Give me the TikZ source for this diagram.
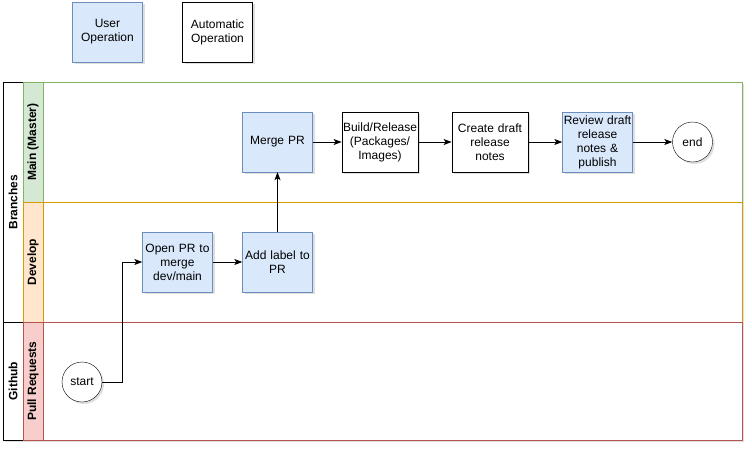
\documentclass[tikz,border=0pt]{standalone}
\usepackage{fontspec}
\setmainfont{Liberation Sans}
\usetikzlibrary{arrows.meta,shadows,calc}
\definecolor{userfill}{HTML}{DAE8FC}
\definecolor{userline}{HTML}{6C8EBF}
\definecolor{mainfill}{HTML}{D5E8D4}
\definecolor{mainline}{HTML}{82B366}
\definecolor{devfill}{HTML}{FFE6CC}
\definecolor{devline}{HTML}{D79B00}
\definecolor{prfill}{HTML}{F8CECC}
\definecolor{prline}{HTML}{B85450}
\tikzset{
  base/.style={font=\fontsize{12}{14}\selectfont, align=center, inner sep=1pt,
    drop shadow={opacity=0.25, shadow xshift=2pt, shadow yshift=-2pt}},
  userop/.style={base, draw=userline, fill=userfill, minimum width=70pt, minimum height=60pt, text width=68pt},
  autoop/.style={base, draw=black, fill=white, line width=0.8pt, minimum width=70pt, minimum height=60pt, text width=74pt},
  terminal/.style={base, circle, draw=black, fill=white, minimum size=40pt},
  flow/.style={-{Stealth[length=8pt,width=6pt,inset=2pt]}, line width=0.8pt},
  laneTitle/.style={font=\bfseries\fontsize{12}{14}\selectfont, rotate=90},
}
\begin{document}
\begin{tikzpicture}[x=1pt,y=-1pt]
\useasboundingbox (0,0) rectangle (752,451);

% legend
\node[userop] (legUser) at (107.5,32) {User\\Operation};
\node[autoop, minimum width=70pt, text width=68pt] (legAuto) at (217.5,32) {Automatic\\Operation};

% pool shadows
\fill[black, opacity=0.12] (5,84) rectangle (744,442);

% pool headers
\draw[fill=white] (3,82) rectangle (23,322);
\node[laneTitle] (poolBranches) at (13,202) {Branches};
\draw[fill=white] (3,322) rectangle (23,440);
\node[laneTitle] (poolGithub) at (13,381) {Github};

% lanes
\draw[mainline, fill=white] (43,82) rectangle (742,202);
\draw[mainline, fill=mainfill] (23,82) rectangle (43,202);
\node[laneTitle] (laneMain) at (33,142) {Main (Master)};

\draw[devline, fill=white] (43,202) rectangle (742,322);
\draw[devline, fill=devfill] (23,202) rectangle (43,322);
\node[laneTitle] (laneDev) at (33,262) {Develop};

\draw[prline, fill=white] (43,322) rectangle (742,440);
\draw[prline, fill=prfill] (23,322) rectangle (43,440);
\node[laneTitle] (lanePR) at (33,381) {Pull Requests};

% flow nodes
\node[terminal] (start) at (82,382) {start};
\node[userop] (openpr) at (177.5,262) {Open PR to\\merge\\dev/main};
\node[userop] (addlabel) at (277.5,262) {Add label to\\PR};
\node[userop] (merge) at (277.5,142) {Merge PR};
\node[autoop, minimum width=75pt] (build) at (380,142) {Build/Release\\(Packages/\\Images)};
\node[autoop, minimum width=75pt] (draft) at (490,142) {Create draft\\release\\notes};
\node[userop] (review) at (597.5,142) {Review draft\\release\\notes \&\\publish};
\node[terminal] (end) at (692.5,142) {end};

% connectors
\draw[flow] (start.east) -- ++(20,0) |- (openpr.west);
\draw[flow] (openpr) -- (addlabel);
\draw[flow] (addlabel) -- (merge);
\draw[flow] (merge) -- (build);
\draw[flow] (build) -- (draft);
\draw[flow] (draft) -- (review);
\draw[flow] (review) -- (end);
\end{tikzpicture}
\end{document}
